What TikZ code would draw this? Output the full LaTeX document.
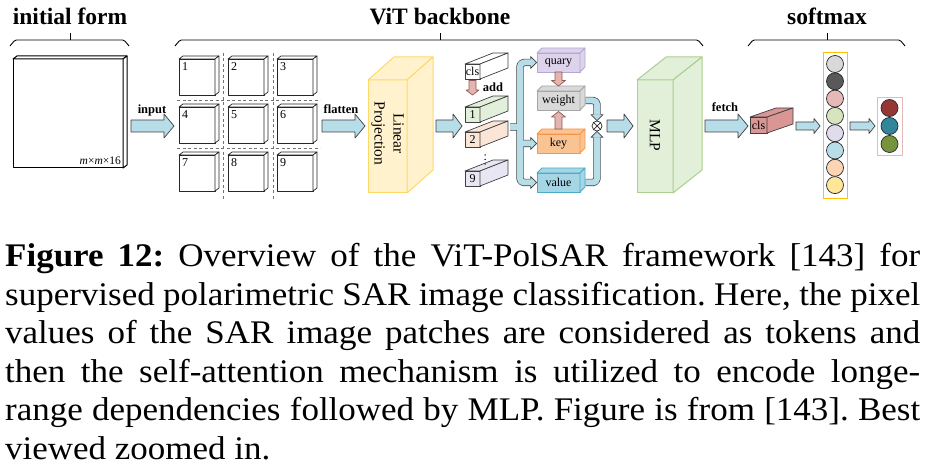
\documentclass[tikz,border=0pt]{standalone}
\usepackage{fontspec}
\setmainfont{Liberation Serif}
\newfontfamily\capfont{Liberation Serif}[FakeStretch=1.06]
\usetikzlibrary{calc}
\definecolor{arrowblue}{HTML}{B7DEE8}
\definecolor{arrowedge}{HTML}{3F3F3F}
\definecolor{pinkfill}{HTML}{E6B4B0}
\definecolor{pinkedge}{HTML}{8E5B57}
\definecolor{lpfill}{HTML}{FFF2CC}
\definecolor{lpedge}{HTML}{FFD966}
\definecolor{mlpfill}{HTML}{E2EFD9}
\definecolor{mlpedge}{HTML}{A9D08E}
\definecolor{qfill}{HTML}{DDD3EA}
\definecolor{qedge}{HTML}{B4A7D6}
\definecolor{wfill}{HTML}{D9D9D9}
\definecolor{wedge}{HTML}{A6A6A6}
\definecolor{kfill}{HTML}{FAC394}
\definecolor{kedge}{HTML}{F79646}
\definecolor{vfill}{HTML}{A5D6E6}
\definecolor{vedge}{HTML}{4BACC6}
\definecolor{tgreen}{HTML}{E2EFDA}
\definecolor{tpeach}{HTML}{FBE5D6}
\definecolor{tlav}{HTML}{E8E6F2}
\definecolor{redfill}{HTML}{D99694}
\definecolor{colyellow}{HTML}{FFC000}
\definecolor{outpink}{HTML}{E6B8B7}
\definecolor{cgray}{HTML}{D9D9D9}
\definecolor{cdark}{HTML}{595959}
\definecolor{cpink}{HTML}{E6B9B8}
\definecolor{cgreen}{HTML}{D7E4BD}
\definecolor{clav}{HTML}{E0DCEC}
\definecolor{cblue}{HTML}{B7DEE8}
\definecolor{cpeach}{HTML}{FCD5B5}
\definecolor{cyellow}{HTML}{FFE699}
\definecolor{ored}{HTML}{953735}
\definecolor{oteal}{HTML}{31859C}
\definecolor{ogreen}{HTML}{77933C}

\tikzset{
  fatarr/.style={fill=arrowblue, draw=arrowedge, line width=0.7pt},
  pinkarr/.style={fill=pinkfill, draw=pinkedge, line width=0.7pt},
  pipeout/.style={line width=7.4pt, draw=arrowedge, rounded corners=4pt},
  pipein/.style={line width=6pt, draw=arrowblue, rounded corners=4pt},
  title/.style={font=\fontsize{23.5}{28}\selectfont\bfseries, anchor=base, inner sep=0pt},
  lab/.style={font=\fontsize{12.5}{15}\selectfont\bfseries, anchor=base, inner sep=0pt},
  bigsq/.style={draw=black, fill=white, line width=1pt},
  patch/.style={draw=black!85, fill=white, line width=0.7pt},
  num/.style={font=\fontsize{12}{14}\selectfont, anchor=north west, inner sep=0pt},
  lpstyle/.style={draw=lpedge, fill=lpfill, line width=1pt},
  mlpstyle/.style={draw=mlpedge, fill=mlpfill, line width=1pt},
  tokw/.style={draw=arrowedge, fill=white, line width=0.7pt, font=\fontsize{12}{14}\selectfont},
  tok1/.style={tokw, fill=tgreen},
  tok2/.style={tokw, fill=tpeach},
  tok9/.style={tokw, fill=tlav},
  qstyle/.style={draw=qedge, fill=qfill, line width=0.8pt, font=\fontsize{12}{14}\selectfont},
  wstyle/.style={draw=wedge, fill=wfill, line width=0.8pt, font=\fontsize{12}{14}\selectfont},
  kstyle/.style={draw=kedge, fill=kfill, line width=0.8pt, font=\fontsize{12}{14}\selectfont},
  vstyle/.style={draw=vedge, fill=vfill, line width=0.8pt, font=\fontsize{12}{14}\selectfont},
  redstyle/.style={draw=arrowedge, fill=redfill, line width=0.7pt, font=\fontsize{12}{14}\selectfont},
  rottext/.style={rotate=-90, align=center, font=\fontsize{15.5}{19}\selectfont, inner sep=0pt},
  circ/.style={circle, draw=black!85, line width=0.7pt, minimum size=17pt, inner sep=0pt},
  capline/.style={anchor=base west, inner sep=0pt, font=\capfont\fontsize{33}{38.6}\selectfont\frenchspacing},
}

\newcommand\prism[9]{%
  \node[#8, minimum width=#4pt, minimum height=#5pt, anchor=north west, inner sep=0pt, outer sep=0pt] (#1) at (#2,#3) {#9};
  \path[#8] (#1.north west) -- ++(#6,#7) -- ++(#4,0) -- (#1.north east) -- cycle;
  \path[#8] (#1.north east) -- ++(#6,#7) -- ++(0,#5) -- (#1.south east) -- cycle;
}
\newcommand\fatR[6]{\draw[#1] let \p1=(#2), \p2=(#3) in
  (\x1,\y1+#4pt) -- (\x2-#6pt,\y1+#4pt) -- (\x2-#6pt,\y1+#5pt) -- (\x2,\y1) --
  (\x2-#6pt,\y1-#5pt) -- (\x2-#6pt,\y1-#4pt) -- (\x1,\y1-#4pt) -- cycle;}
\newcommand\fatD[6]{\draw[#1] let \p1=(#2), \p2=(#3) in
  (\x1+#4pt,\y1) -- (\x1+#4pt,\y2+#6pt) -- (\x1+#5pt,\y2+#6pt) -- (\x1,\y2) --
  (\x1-#5pt,\y2+#6pt) -- (\x1-#4pt,\y2+#6pt) -- (\x1-#4pt,\y1) -- cycle;}
\newcommand\fatU[6]{\draw[#1] let \p1=(#2), \p2=(#3) in
  (\x1+#4pt,\y1) -- (\x1+#4pt,\y2-#6pt) -- (\x1+#5pt,\y2-#6pt) -- (\x1,\y2) --
  (\x1-#5pt,\y2-#6pt) -- (\x1-#4pt,\y2-#6pt) -- (\x1-#4pt,\y1) -- cycle;}
\newcommand\headR[1]{%
  \fill[arrowblue] let \p1=(#1) in (\x1-6pt,\y1+6pt) -- (\x1,\y1) -- (\x1-6pt,\y1-6pt) -- cycle;
  \draw[line width=0.7pt, draw=arrowedge] let \p1=(#1) in (\x1-6pt,\y1+3.3pt) -- (\x1-6pt,\y1+6pt) -- (\x1,\y1) -- (\x1-6pt,\y1-6pt) -- (\x1-6pt,\y1-3.3pt);}
\newcommand\headD[1]{%
  \fill[arrowblue] let \p1=(#1) in (\x1-6pt,\y1+6pt) -- (\x1,\y1) -- (\x1+6pt,\y1+6pt) -- cycle;
  \draw[line width=0.7pt, draw=arrowedge] let \p1=(#1) in (\x1-3.3pt,\y1+6pt) -- (\x1-6pt,\y1+6pt) -- (\x1,\y1) -- (\x1+6pt,\y1+6pt) -- (\x1+3.3pt,\y1+6pt);}
\newcommand\headU[1]{%
  \fill[arrowblue] let \p1=(#1) in (\x1-6pt,\y1-6pt) -- (\x1,\y1) -- (\x1+6pt,\y1-6pt) -- cycle;
  \draw[line width=0.7pt, draw=arrowedge] let \p1=(#1) in (\x1-3.3pt,\y1-6pt) -- (\x1-6pt,\y1-6pt) -- (\x1,\y1) -- (\x1+6pt,\y1-6pt) -- (\x1+3.3pt,\y1-6pt);}
\newcommand\pipe[1]{\draw[pipeout] #1; \draw[pipein] #1;}
\newcommand\topbrace[3]{%
  \draw[line width=0.9pt, rounded corners=1.5pt] (#1,46) -- (#1+5,40) -- (#2-5,40) -- (#2,46);
  \draw[line width=0.9pt] (#3,40) -- (#3,33.5);}

\begin{document}
\begin{tikzpicture}[x=1pt, y=-1pt, line join=round]
\useasboundingbox (0,0) rectangle (928,470);

% titles and braces
\node[title] (tinit) at (70,25) {initial form};
\node[title] (tvit) at (440,25) {ViT backbone};
\node[title] (tsoft) at (827,25) {softmax};
\topbrace{10}{129}{70}
\topbrace{175}{703}{440}
\topbrace{748}{905}{827}

% initial image
\prism{big}{13}{59}{110}{109}{4}{-3}{bigsq}{}
\node[anchor=base east, inner sep=0pt, font=\fontsize{11.5}{13}\selectfont] (dim) at (121,165) {\textit{m}×\textit{m}×16};

% input arrow
\coordinate (a1s) at (131,126); \coordinate (a1e) at (174,126);
\fatR{fatarr}{a1s}{a1e}{6}{12}{10}
\node[lab] (linput) at (152,114) {input};

% dashed grid
\draw[dashed, dash pattern=on 3pt off 2.5pt, black!55, line width=0.6pt] (223,53) -- (223,200) (273,53) -- (273,200)
  (177,100) -- (320,100) (177,148) -- (320,148);

% patches
\foreach \c/\x in {0/179,1/228,2/277}{
  \foreach \r/\y in {0/59,1/107,2/155}{
    \pgfmathtruncatemacro\n{3*\r+\c+1}
    \prism{p\n}{\x}{\y}{36}{36}{4}{-3}{patch}{}
    \node[num] (n\n) at ([shift={(3pt,-3pt)}]p\n.north west) {\n};
  }
}

% flatten arrow
\coordinate (a2s) at (322,126); \coordinate (a2e) at (365,126);
\fatR{fatarr}{a2s}{a2e}{6}{12}{10}
\node[lab] (lflat) at (341,114) {flatten};

% linear projection
\prism{lp}{368}{80}{39}{113}{26}{-23}{lpstyle}{}
\node[rottext] (lpt) at ([yshift=3pt]lp.center) {Linear\\Projection};

\coordinate (a3s) at (436,126); \coordinate (a3e) at (462,126);
\fatR{fatarr}{a3s}{a3e}{6}{12}{9}

% tokens
\prism{tcls}{465}{64}{15}{15}{28}{-11}{tokw}{cls}
\prism{t1}{465}{107}{15}{15}{28}{-11}{tok1}{1}
\prism{t2}{465}{132}{15}{15}{28}{-11}{tok2}{2}
\prism{t9}{465}{171}{15}{15}{28}{-11}{tok9}{9}
\foreach \yy in {155,159.5,164} \fill (485,\yy) circle (0.75pt);
\fatD{pinkarr}{[yshift=-1.5pt]tcls.south}{[yshift=12pt]t1.north}{3.5}{6.5}{5}
\node[lab] (ladd) at (493,92) {add};

% attention boxes
\prism{quary}{537}{53}{43}{19}{5}{-5}{qstyle}{quary}
\prism{weight}{537}{91}{43}{19}{5}{-5}{wstyle}{weight}
\prism{key}{537}{134}{43}{19}{5}{-5}{kstyle}{key}
\prism{value}{537}{173}{43}{19}{5}{-5}{vstyle}{value}

% branching pipe
\coordinate (stem) at (510,127);
\coordinate (bus) at (520,127);
\pipe{(stem) -- (bus) ([xshift=-6pt]quary.west) -| (bus) |- ([xshift=-6pt]value.west) (bus |- key.west) -- ([xshift=-6pt]key.west)}
\headR{[xshift=-0.3pt]quary.west}
\headR{[xshift=-0.3pt]key.west}
\headR{[xshift=-0.3pt]value.west}

% pink arrows
\fatD{pinkarr}{quary.south}{[yshift=5pt]weight.north}{3.5}{7}{5.5}
\fatU{pinkarr}{[yshift=5pt]key.north}{[yshift=-1.5pt]weight.south}{3.5}{7}{5.5}

% otimes
\node[circle, draw=black!85, line width=0.7pt, minimum size=10pt, inner sep=0pt] (ot) at (597,126) {};
\draw[line width=0.7pt, black!85] (ot.north east) -- (ot.south west) (ot.north west) -- (ot.south east);
\pipe{([xshift=5.5pt]weight.east) -| ([yshift=6pt]ot.north)}
\headD{ot.north}
\pipe{([xshift=5.5pt]value.east) -| ([yshift=-6pt]ot.south)}
\headU{ot.south}

\coordinate (a4s) at (607,126); \coordinate (a4e) at (633,126);
\fatR{fatarr}{a4s}{a4e}{6}{12}{9}

% MLP
\prism{mlp}{637}{80}{36}{113}{29}{-23}{mlpstyle}{}
\node[rottext] (mlpt) at ([yshift=1pt]mlp.center) {MLP};

% fetch
\coordinate (a5s) at (705,126); \coordinate (a5e) at (748,126);
\fatR{fatarr}{a5s}{a5e}{6}{12}{10}
\node[lab] (lfetch) at (725,112) {fetch};

\prism{rcls}{750}{117}{17}{16}{26}{-9}{redstyle}{cls}

\coordinate (a6s) at (796,126); \coordinate (a6e) at (820,126);
\fatR{fatarr}{a6s}{a6e}{4}{7.5}{6}

% softmax column
\node[draw=colyellow, line width=1pt, minimum width=24pt, minimum height=146pt, inner sep=0pt, anchor=north west] (col) at (823,52) {};
\foreach \i/\cc in {1/cgray,2/cdark,3/cpink,4/cgreen,5/clav,6/cblue,7/cpeach,8/cyellow}{
  \node[circ, fill=\cc] (c\i) at (835,{64+(\i-1)*17.3}) {};
}

\coordinate (a7s) at (850,126); \coordinate (a7e) at (875,126);
\fatR{fatarr}{a7s}{a7e}{4}{7.5}{6}

\node[draw=outpink, line width=1pt, minimum width=25pt, minimum height=58pt, inner sep=0pt, anchor=north west] (outbox) at (877,97) {};
\node[circ, fill=ored] (o1) at (889.5,108) {};
\node[circ, fill=oteal] (o2) at (889.5,126) {};
\node[circ, fill=ogreen] (o3) at (889.5,144) {};

% caption
\node[capline] (cap1) at (5,266.5) {\makebox[915pt][s]{\textbf{Figure 12:} Overview of the ViT-PolSAR framework [143] for}};
\node[capline] (cap2) at (5,305.1) {\makebox[915pt][s]{supervised polarimetric SAR image classification. Here, the pixel}};
\node[capline] (cap3) at (5,343.7) {\makebox[915pt][s]{values of the SAR image patches are considered as tokens and}};
\node[capline] (cap4) at (5,382.3) {\makebox[915pt][s]{then the self-attention mechanism is utilized to encode longe-}};
\node[capline] (cap5) at (5,420.9) {\makebox[915pt][s]{range dependencies followed by MLP. Figure is from [143]. Best}};
\node[capline] (cap6) at (5,459.5) {viewed zoomed in.};
\end{tikzpicture}
\end{document}
